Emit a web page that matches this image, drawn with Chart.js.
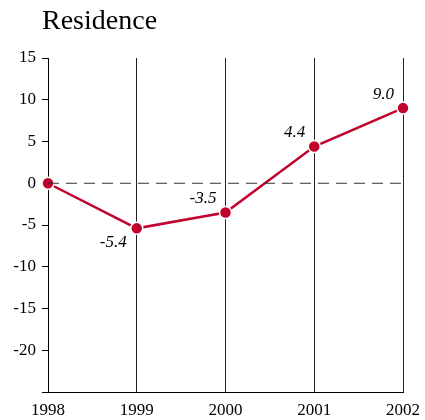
<!DOCTYPE html>
<html>
<head>
<meta charset="utf-8">
<script src="https://cdn.jsdelivr.net/npm/chart.js@4/dist/chart.umd.min.js"></script>
<style>
  body { margin: 0; background: #fff; }
  canvas { display: block; }
</style>
</head>
<body>
<canvas id="chart" width="425" height="420"></canvas>
<script>
// chart data
const years = ['1998', '1999', '2000', '2001', '2002'];
const residence = [0, -5.4, -3.5, 4.4, 9.0];
const zeroLine = [0, 0, 0, 0, 0];
const pointLabels = ['', '-5.4', '-3.5', '4.4', '9.0'];
const yTicks = [15, 10, 5, 0, -5, -10, -15, -20];

const red = '#c0032c';
const serif = '"Liberation Serif", "Times New Roman", serif';

// title drawn at the top left
const titlePlugin = {
  id: 'titleText',
  afterDraw(chart) {
    const ctx = chart.ctx;
    ctx.save();
    ctx.fillStyle = '#000';
    ctx.font = '28px ' + serif;
    ctx.textBaseline = 'alphabetic';
    ctx.fillText('Residence', 42, 29);
    ctx.restore();
  }
};

// value labels next to the points
const valueLabels = {
  id: 'valueLabels',
  afterDatasetsDraw(chart) {
    const ctx = chart.ctx;
    const meta = chart.getDatasetMeta(1);
    ctx.save();
    ctx.fillStyle = '#000';
    ctx.font = 'italic 17px ' + serif;
    ctx.textAlign = 'right';
    meta.data.forEach((pt, i) => {
      if (!pointLabels[i]) return;
      // the low point has its label below, the others above
      if (i === 1) {
        ctx.textBaseline = 'top';
        ctx.fillText(pointLabels[i], pt.x - 10, pt.y + 6);
      } else {
        ctx.textBaseline = 'bottom';
        ctx.fillText(pointLabels[i], pt.x - 9, pt.y - 5);
      }
    });
    ctx.restore();
  }
};

new Chart(document.getElementById('chart').getContext('2d'), {
  type: 'line',
  data: {
    labels: years,
    datasets: [
      {
        data: zeroLine,
        borderColor: '#333',
        borderWidth: 1,
        borderDash: [11, 7],
        pointRadius: 0
      },
      {
        data: residence,
        borderColor: red,
        borderWidth: 2.5,
        backgroundColor: red,
        pointBackgroundColor: red,
        pointBorderColor: '#fff',
        pointBorderWidth: 1.5,
        pointRadius: 6,
        clip: false
      }
    ]
  },
  options: {
    responsive: false,
    animation: false,
    layout: { padding: { left: 0, right: 22, top: 58, bottom: 0 } },
    plugins: {
      legend: { display: false },
      title: { display: false },
      tooltip: { enabled: false }
    },
    scales: {
      x: {
        offset: false,
        grid: { color: '#222', lineWidth: 1, drawTicks: false },
        border: { color: '#000', width: 1 },
        ticks: {
          color: '#000',
          font: { family: serif, size: 17 },
          padding: 8,
          maxRotation: 0
        },
        afterFit(scale) {
          scale.height = 28;
          scale.paddingLeft = 0;
          scale.paddingRight = 0;
        }
      },
      y: {
        min: -25,
        max: 15,
        grid: { drawOnChartArea: false, color: '#000', tickLength: 6 },
        border: { color: '#000', width: 1 },
        ticks: {
          stepSize: 5,
          color: '#000',
          font: { family: serif, size: 17 },
          padding: 6,
          callback: v => (yTicks.includes(v) ? String(v) : '')
        },
        afterFit(scale) { scale.width = 48; }
      }
    }
  },
  plugins: [titlePlugin, valueLabels]
});
</script>
</body>
</html>
